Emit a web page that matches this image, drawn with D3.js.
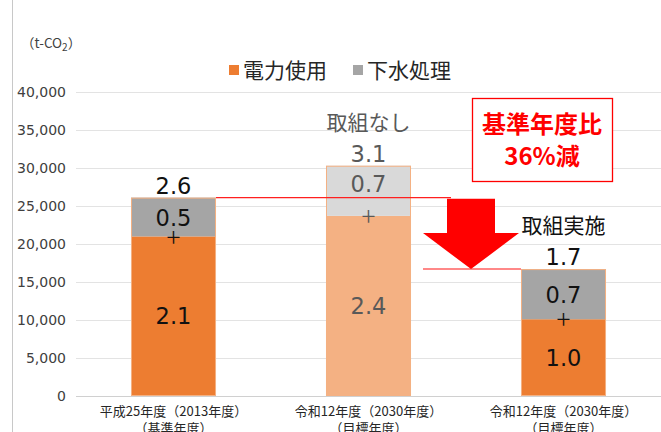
<!DOCTYPE html>
<html>
<head>
<meta charset="utf-8">
<script src="https://cdn.jsdelivr.net/npm/d3@7"></script>
<style>
  body { margin: 0; background: #fff; }
  svg { display: block; font-family: "Noto Sans CJK JP", "Noto Sans", sans-serif; }
  .num { font-family: "DejaVu Sans", sans-serif; }
</style>
</head>
<body>
<div id="chart"></div>
<script>
// データ（t-CO2）
const categoryKeys = ['base', 'noAction', 'action'];
const categoryLines1 = ['平成25年度（2013年度）', '令和12年度（2030年度）', '令和12年度（2030年度）'];
const categoryLines2 = ['（基準年度）', '（目標年度）', '（目標年度）'];
const denryoku = [21000, 23700, 10100];   // 電力使用
const gesui = [5100, 6600, 6600];         // 下水処理
const denryokuLabels = ['2.1', '2.4', '1.0'];
const gesuiLabels = ['0.5', '0.7', '0.7'];
const totalLabels = ['2.6', '3.1', '1.7'];
const scenarioTitles = ['', '取組なし', '取組実施'];
const seriesNames = ['電力使用', '下水処理'];
const yTicks = [0, 5000, 10000, 15000, 20000, 25000, 30000, 35000, 40000];

const width = 661, height = 432;
const svg = d3.select('#chart').append('svg')
  .attr('width', width).attr('height', height);

const x = d3.scaleBand()
  .domain(categoryKeys)
  .range([76, 661])
  .paddingInner(0.564)
  .paddingOuter(0.282);

const y = d3.scaleLinear()
  .domain([0, 40000])
  .range([396, 92]);

// 左端の縦線
svg.append('line')
  .attr('x1', 12.5).attr('x2', 12.5)
  .attr('y1', 0).attr('y2', height)
  .attr('stroke', '#c8c8c8');

// グリッド
svg.append('g')
  .selectAll('line')
  .data(yTicks)
  .join('line')
  .attr('x1', 76).attr('x2', width)
  .attr('y1', d => Math.round(y(d)) + 0.5)
  .attr('y2', d => Math.round(y(d)) + 0.5)
  .attr('stroke', d => d === 0 ? '#d0d0d0' : '#e3e3e3')
  .attr('stroke-width', 1.2);

// 縦軸
const yAxis = svg.append('g')
  .attr('transform', 'translate(66,0)')
  .call(d3.axisLeft(y).tickValues(yTicks).tickSize(0).tickPadding(0).tickFormat(d3.format(',')));
yAxis.select('.domain').remove();
yAxis.selectAll('text')
  .attr('fill', '#404040')
  .style('font-size', '14px')
  .style('font-family', '"DejaVu Sans", sans-serif');

// 単位
const unit = svg.append('text')
  .attr('x', 21).attr('y', 48)
  .attr('fill', '#404040')
  .style('font-size', '13.5px');
unit.append('tspan').text('（t-CO');
unit.append('tspan').attr('dy', 3).style('font-size', '10px').text('2');
unit.append('tspan').attr('dy', -3).text('）');

// 凡例
const legendItems = [
  { name: seriesNames[0], color: '#ED7D31', x: 229 },
  { name: seriesNames[1], color: '#A5A5A5', x: 353 }
];
const legend = svg.append('g');
legend.selectAll('rect')
  .data(legendItems)
  .join('rect')
  .attr('x', d => d.x).attr('y', 65)
  .attr('width', 10).attr('height', 10)
  .attr('fill', d => d.color);
legend.selectAll('text')
  .data(legendItems)
  .join('text')
  .attr('x', d => d.x + 14).attr('y', 78)
  .attr('fill', '#262626')
  .style('font-size', '21px')
  .text(d => d.name);

// 棒
const barColors = [
  { elec: '#ED7D31', sewer: '#A5A5A5' },
  { elec: '#F4B183', sewer: '#D9D9D9' },
  { elec: '#ED7D31', sewer: '#A5A5A5' }
];
const rows = categoryKeys.map((k, i) => ({
  key: k, i,
  elec: denryoku[i], sewer: gesui[i], total: denryoku[i] + gesui[i]
}));

const bars = svg.append('g');
bars.selectAll('rect.elec')
  .data(rows)
  .join('rect')
  .attr('class', 'elec')
  .attr('x', d => x(d.key))
  .attr('width', x.bandwidth())
  .attr('y', d => y(d.elec))
  .attr('height', d => y(0) - y(d.elec))
  .attr('fill', d => barColors[d.i].elec);
bars.selectAll('rect.sewer')
  .data(rows)
  .join('rect')
  .attr('class', 'sewer')
  .attr('x', d => x(d.key))
  .attr('width', x.bandwidth())
  .attr('y', d => y(d.total))
  .attr('height', d => y(d.elec) - y(d.total))
  .attr('fill', d => barColors[d.i].sewer);
// 薄いオレンジの枠
bars.selectAll('rect.outline')
  .data(rows)
  .join('rect')
  .attr('class', 'outline')
  .attr('x', d => x(d.key) + 0.5)
  .attr('width', x.bandwidth() - 1)
  .attr('y', d => y(d.total) + 0.5)
  .attr('height', d => y(0) - y(d.total) - 1)
  .attr('fill', 'none')
  .attr('stroke', '#F4B183')
  .attr('stroke-width', 1);

// 赤線と矢印
const base = rows[0], after = rows[2];
const arrowCx = (x(categoryKeys[1]) + x.bandwidth() + x(categoryKeys[2])) / 2 + 5;
svg.append('line')
  .attr('x1', x(base.key) + x.bandwidth()).attr('x2', arrowCx - 20)
  .attr('y1', y(base.total)).attr('y2', y(base.total))
  .attr('stroke', '#ff2020').attr('stroke-width', 1.3);
svg.append('line')
  .attr('x1', arrowCx - 48).attr('x2', x(after.key))
  .attr('y1', y(after.total)).attr('y2', y(after.total))
  .attr('stroke', '#ff6060').attr('stroke-width', 1.5);

const arrowTop = y(base.total) + 1;
const arrowTip = y(after.total);
const headTop = arrowTip - 36;
svg.append('path')
  .attr('d', d3.line()([
    [arrowCx - 24, arrowTop], [arrowCx + 24, arrowTop], [arrowCx + 24, headTop],
    [arrowCx + 48, headTop], [arrowCx, arrowTip], [arrowCx - 48, headTop],
    [arrowCx - 24, headTop]
  ]) + 'Z')
  .attr('fill', '#FF0000');

// ラベル
const lab = svg.append('g').attr('text-anchor', 'middle');
const textColors = ['#111', '#595959', '#111'];
const cx = d => x(d.key) + x.bandwidth() / 2;

lab.selectAll('text.total')
  .data(rows)
  .join('text')
  .attr('class', 'total num')
  .attr('x', cx)
  .attr('y', d => y(d.total) - 12)
  .attr('dy', '0.36em')
  .attr('fill', d => textColors[d.i])
  .style('font-size', '22.5px')
  .text(d => totalLabels[d.i]);

lab.selectAll('text.title')
  .data(rows.filter(d => scenarioTitles[d.i]))
  .join('text')
  .attr('class', 'title')
  .attr('x', cx)
  .attr('y', d => y(d.total) - 43)
  .attr('dy', '0.35em')
  .attr('fill', d => textColors[d.i])
  .style('font-size', '21px')
  .text(d => scenarioTitles[d.i]);

lab.selectAll('text.sewer')
  .data(rows)
  .join('text')
  .attr('class', 'sewer num')
  .attr('x', cx)
  .attr('y', d => (y(d.total) + y(d.elec)) / 2 + (d.i === 1 ? -7 : 1))
  .attr('dy', '0.36em')
  .attr('fill', d => textColors[d.i])
  .style('font-size', '22.5px')
  .text(d => gesuiLabels[d.i]);

lab.selectAll('text.plus')
  .data(rows)
  .join('text')
  .attr('class', 'plus')
  .attr('x', cx)
  .attr('y', d => y(d.elec) + 1)
  .attr('dy', '0.35em')
  .attr('fill', d => textColors[d.i])
  .style('font-size', '26px')
  .style('font-weight', 300)
  .text('+');

lab.selectAll('text.elec')
  .data(rows)
  .join('text')
  .attr('class', 'elec num')
  .attr('x', cx)
  .attr('y', d => (y(d.elec) + y(0)) / 2)
  .attr('dy', '0.36em')
  .attr('fill', d => textColors[d.i])
  .style('font-size', '22.5px')
  .text(d => denryokuLabels[d.i]);

// 横軸ラベル
lab.selectAll('text.cat1')
  .data(rows)
  .join('text')
  .attr('class', 'cat1')
  .attr('x', cx).attr('y', 416)
  .attr('fill', '#262626')
  .style('font-size', '13px')
  .text(d => categoryLines1[d.i]);
lab.selectAll('text.cat2')
  .data(rows)
  .join('text')
  .attr('class', 'cat2')
  .attr('x', cx).attr('y', 433)
  .attr('fill', '#262626')
  .style('font-size', '13px')
  .text(d => categoryLines2[d.i]);

// 削減率の枠
svg.append('rect')
  .attr('x', 472.5).attr('y', 98.5)
  .attr('width', 140).attr('height', 83)
  .attr('fill', '#fff')
  .attr('stroke', '#FF0000').attr('stroke-width', 1.3);
svg.append('text')
  .attr('x', 542).attr('y', 125).attr('dy', '0.35em')
  .attr('text-anchor', 'middle')
  .attr('fill', '#FF0000')
  .style('font-size', '24px').style('font-weight', 'bold')
  .text('基準年度比');
svg.append('text')
  .attr('x', 542).attr('y', 157).attr('dy', '0.35em')
  .attr('text-anchor', 'middle')
  .attr('fill', '#FF0000')
  .style('font-size', '24px').style('font-weight', 'bold')
  .text('36%減');
</script>
</body>
</html>
